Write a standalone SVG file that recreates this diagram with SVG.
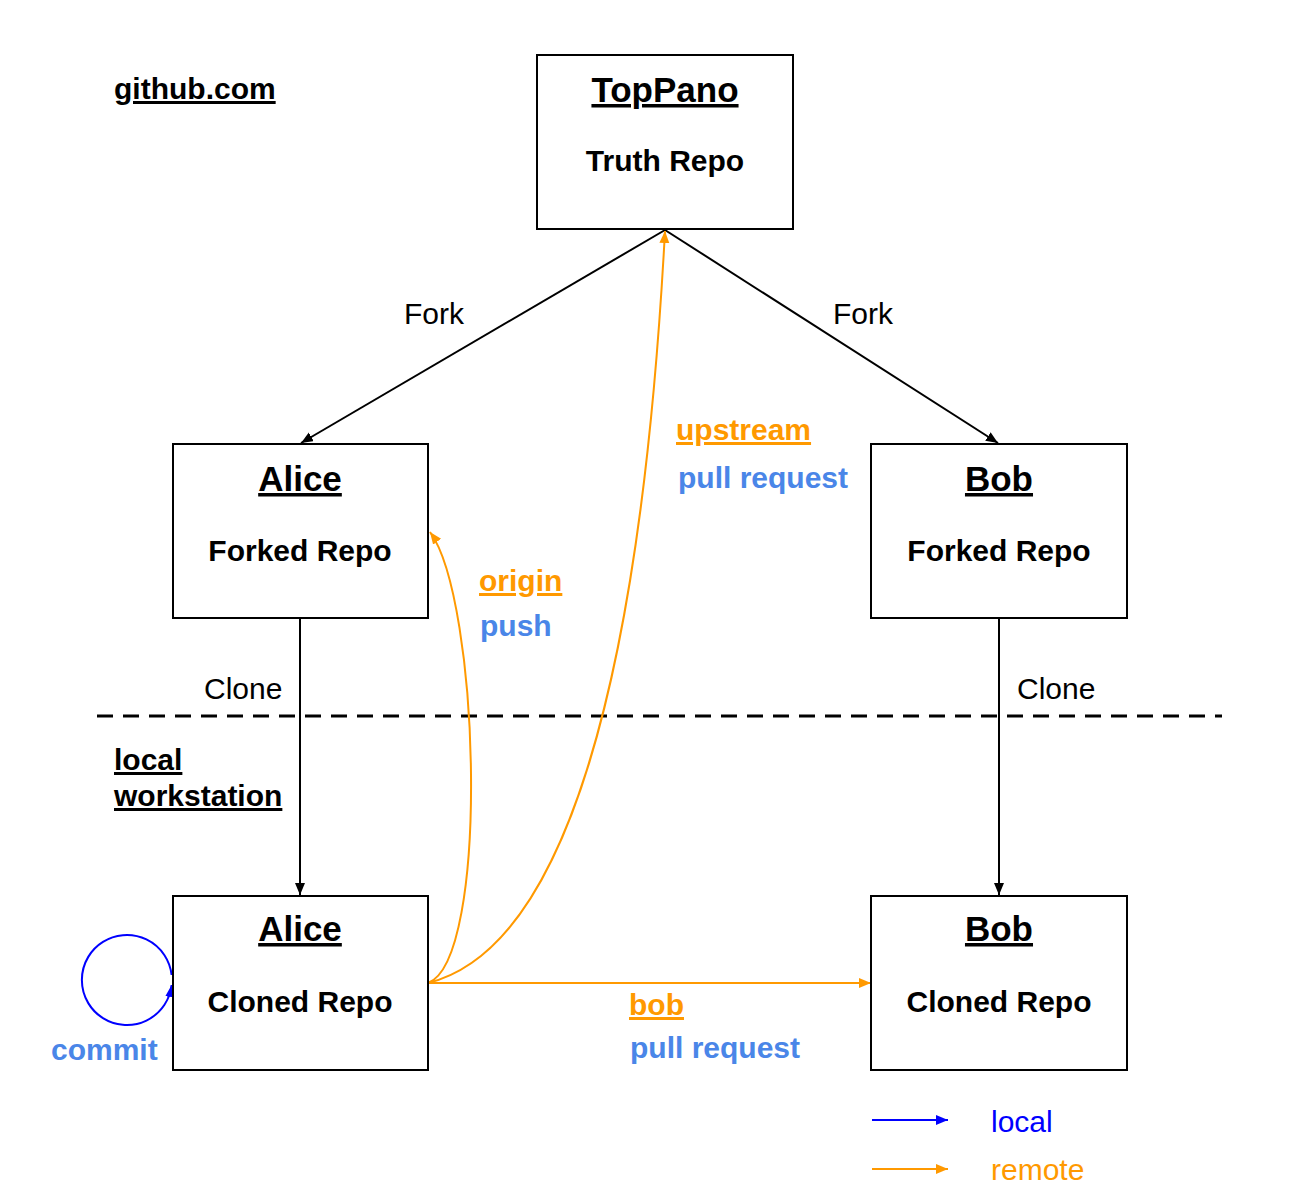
<svg xmlns="http://www.w3.org/2000/svg" width="1300" height="1202" viewBox="0 0 1300 1202">
<style>
.box{fill:#fff;stroke:#000;stroke-width:2}
.h{font-family:"Liberation Sans",Arial,sans-serif;font-weight:bold;font-size:35px;text-decoration:underline;text-anchor:middle;fill:#000}
.s{font-family:"Liberation Sans",Arial,sans-serif;font-weight:bold;font-size:30px;text-anchor:middle;fill:#000}
.r{font-family:"Liberation Sans",Arial,sans-serif;font-size:30px;fill:#000}
.b{font-family:"Liberation Sans",Arial,sans-serif;font-weight:bold;font-size:30px}
.u{text-decoration:underline}
.or{fill:#ff9900}
.bl{fill:#4a86e8}
.blk{stroke:#000;stroke-width:2;fill:none}
.orl{stroke:#ff9900;stroke-width:2;fill:none}
.bll{stroke:#0000ff;stroke-width:2;fill:none}
</style>
<defs>
<marker id="ak" markerUnits="userSpaceOnUse" markerWidth="14" markerHeight="12" refX="12" refY="5" orient="auto"><path d="M0,0 L12,5 L0,10 z" fill="#000"/></marker>
<marker id="ao" markerUnits="userSpaceOnUse" markerWidth="14" markerHeight="12" refX="12" refY="5" orient="auto"><path d="M0,0 L12,5 L0,10 z" fill="#ff9900"/></marker>
<marker id="ab" markerUnits="userSpaceOnUse" markerWidth="14" markerHeight="12" refX="12" refY="5" orient="auto"><path d="M0,0 L12,5 L0,10 z" fill="#0000ff"/></marker>
</defs>
<rect width="1300" height="1202" fill="#fff"/>
<text class="b u" x="114" y="99" fill="#000">github.com</text>
<text class="b u" x="114" y="770" fill="#000">local</text>
<text class="b u" x="114" y="806" fill="#000">workstation</text>
<line x1="97" y1="716" x2="1222" y2="716" stroke="#000" stroke-width="3" stroke-dasharray="16,10"/>
<g id="connectors">
<line class="blk" x1="665" y1="230" x2="301" y2="443" marker-end="url(#ak)"/>
<line class="blk" x1="665" y1="230" x2="998" y2="443" marker-end="url(#ak)"/>
<line class="blk" x1="300" y1="618" x2="300" y2="895" marker-end="url(#ak)"/>
<line class="blk" x1="999" y1="618" x2="999" y2="895" marker-end="url(#ak)"/>
<path class="orl" d="M428,983 C490,960 480,600 430,532" marker-end="url(#ao)"/>
<path class="orl" d="M428,983 C560,950 640,700 665,231" marker-end="url(#ao)"/>
<line class="orl" x1="428" y1="983" x2="871" y2="983" marker-end="url(#ao)"/>
<path class="bll" d="M171.6,975 A45,45 0 1 0 171.6,985" marker-end="url(#ab)"/>
<text class="r" x="404" y="324">Fork</text>
<text class="r" x="833" y="324">Fork</text>
<text class="r" x="204" y="699">Clone</text>
<text class="r" x="1017" y="699">Clone</text>
<text class="b u or" x="676" y="440">upstream</text>
<text class="b bl" x="678" y="488">pull request</text>
<text class="b u or" x="479" y="591">origin</text>
<text class="b bl" x="480" y="636">push</text>
<text class="b bl" x="51" y="1060">commit</text>
<text class="b u or" x="629" y="1015">bob</text>
<text class="b bl" x="630" y="1058">pull request</text>
</g>
<g id="toppano"><rect class="box" x="537" y="55" width="256" height="174"/><text class="h" x="665" y="102">TopPano</text><text class="s" x="665" y="171">Truth Repo</text></g>
<g id="alice-forked"><rect class="box" x="173" y="444" width="255" height="174"/><text class="h" x="300" y="491">Alice</text><text class="s" x="300" y="561">Forked Repo</text></g>
<g id="bob-forked"><rect class="box" x="871" y="444" width="256" height="174"/><text class="h" x="999" y="491">Bob</text><text class="s" x="999" y="561">Forked Repo</text></g>
<g id="alice-cloned"><rect class="box" x="173" y="896" width="255" height="174"/><text class="h" x="300" y="941">Alice</text><text class="s" x="300" y="1012">Cloned Repo</text></g>
<g id="bob-cloned"><rect class="box" x="871" y="896" width="256" height="174"/><text class="h" x="999" y="941">Bob</text><text class="s" x="999" y="1012">Cloned Repo</text></g>
<g id="legend">
<line class="bll" x1="872" y1="1120" x2="948" y2="1120" marker-end="url(#ab)"/>
<line class="orl" x1="872" y1="1169" x2="948" y2="1169" marker-end="url(#ao)"/>
<text class="r" x="991" y="1132" style="fill:#0000ff">local</text>
<text class="r" x="991" y="1180" style="fill:#ff9900">remote</text>
</g>
</svg>
